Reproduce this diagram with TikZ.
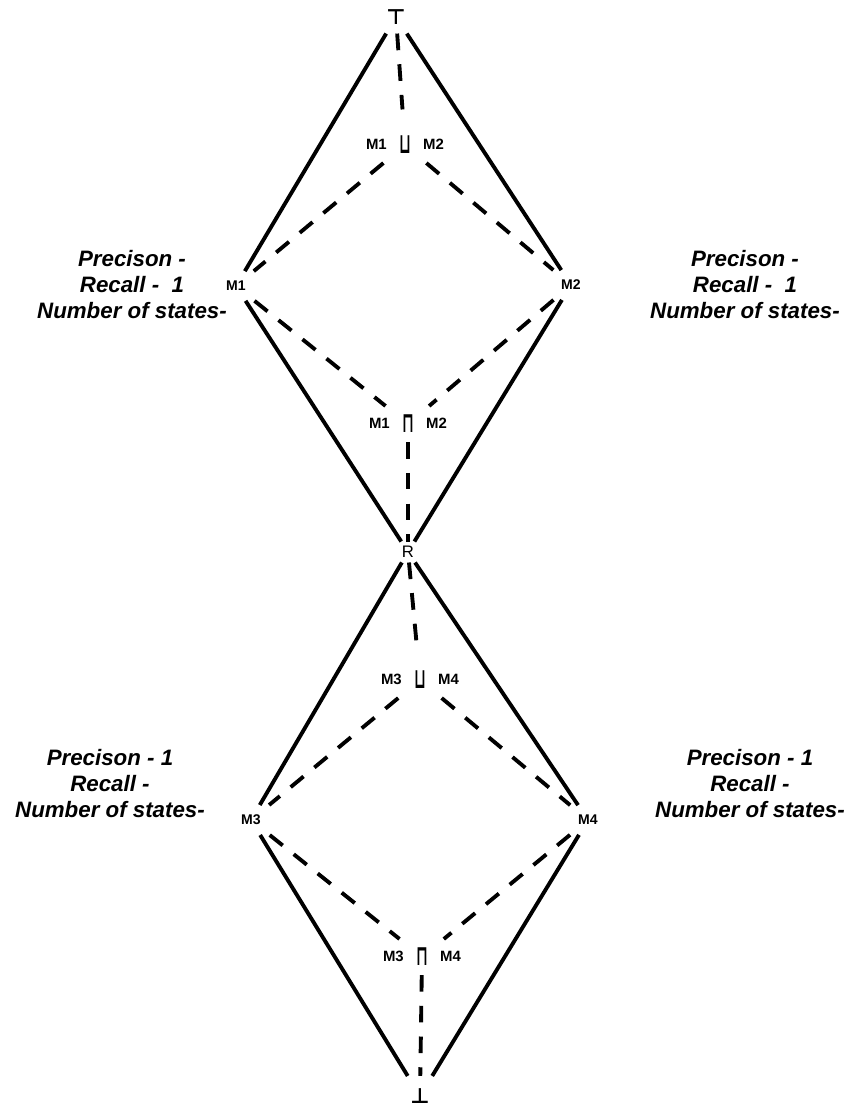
\documentclass[tikz,border=0pt]{standalone}
\usepackage{fontspec}
\setmainfont{Liberation Sans}
\newfontfamily\opfont{DejaVu Sans}

% lattice of models: top/bottom, joins and meets
\tikzset{
  vtx/.style={inner sep=2.5pt,font=\fontsize{9.5}{11}\selectfont},
  bound/.style={inner sep=5pt,font=\fontsize{12}{13}\selectfont\opfont\bfseries},
  corner/.style={inner sep=5.5pt,font=\fontsize{8}{9}\selectfont\bfseries},
  meet/.style={inner sep=5pt,font=\fontsize{8.5}{10}\selectfont\bfseries},
  info/.style={align=center,font=\fontsize{12.7}{14.8}\selectfont\bfseries\itshape},
  solidedge/.style={line width=2.2pt},
  dashedge/.style={line width=2.2pt,dash pattern=on 9.5pt off 8pt}
}
\newcommand{\joinop}{\raisebox{-2.5pt}{\scalebox{1}[1.9]{\opfont\bfseries ⊔}}}
\newcommand{\meetop}{\raisebox{-2.5pt}{\scalebox{1}[1.9]{\opfont\bfseries ⊓}}}

\begin{document}
\begin{tikzpicture}[x=0.02cm,y=-0.02cm]
\useasboundingbox (0,0) rectangle (859,1108);
% upper diamond
\node[bound] (top) at (396,17) {⊤};
\node[meet] (j12) at (405,145) {M1\hspace{7pt}\joinop\hspace{7pt}M2};
\node[corner] (m1) at (236,286) {M1};
\node[corner] (m2) at (571,285) {M2};
\node[meet] (k12) at (408,424) {M1\hspace{7pt}\meetop\hspace{7pt}M2};
\node[vtx] (r) at (408,552) {R};
% lower diamond
\node[meet] (j34) at (420,680) {M3\hspace{7pt}\joinop\hspace{7pt}M4};
\node[corner] (m3) at (251,820) {M3};
\node[corner] (m4) at (588,820) {M4};
\node[meet] (k34) at (422,957) {M3\hspace{7pt}\meetop\hspace{7pt}M4};
\node[bound,inner sep=7pt] (bot) at (420,1096) {⊥};
% scores
\node[info] (s1) at (132,285) {Precison -\\Recall -\ \ 1\\Number of states-};
\node[info] (s2) at (745,285) {Precison -\\Recall -\ \ 1\\Number of states-};
\node[info] (s3) at (110,784) {Precison - 1\\Recall -\\Number of states-};
\node[info] (s4) at (750,784) {Precison - 1\\Recall -\\Number of states-};
% order edges
\foreach \a/\b in {top/m1,top/m2,m1/r,m2/r,r/m3,r/m4,m3/bot,m4/bot}
  \draw[solidedge] (\a) -- (\b);
\foreach \a/\b/\s in {top/j12/10pt,j12/m1/0pt,j12/m2/0pt,m1/k12/0pt,m2/k12/0pt,k12/r/0pt,
                   r/j34/5pt,j34/m3/0pt,j34/m4/0pt,m3/k34/0pt,m4/k34/0pt,k34/bot/0pt}
  \draw[dashedge,shorten >=\s] (\a) -- (\b);
\end{tikzpicture}
\end{document}
